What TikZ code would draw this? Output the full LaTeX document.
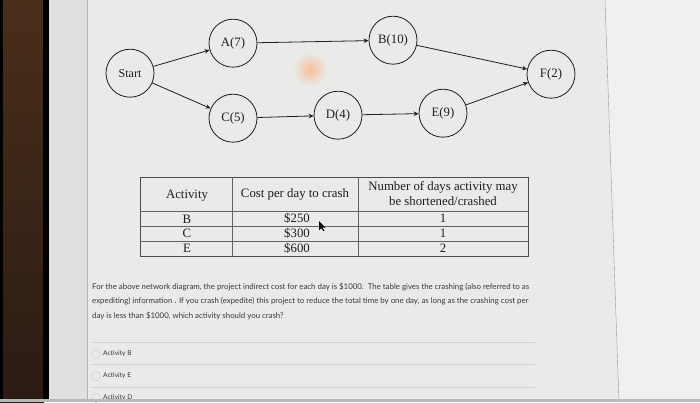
\documentclass[tikz,border=0pt]{standalone}
\usepackage{fontspec}
\setmainfont{Liberation Serif}
\newfontfamily\uifont{Lato}
\usetikzlibrary{arrows.meta}
\definecolor{page}{HTML}{EAEAE8}
\definecolor{panel}{HTML}{E0E0DE}
\definecolor{bezeltop}{HTML}{4A2E1A}
\definecolor{bezelbot}{HTML}{2A1B14}
\definecolor{ink}{HTML}{1E1E1E}
\definecolor{uitext}{HTML}{383838}
\definecolor{rule}{HTML}{D2D2D0}
\definecolor{glare}{HTML}{F7BE98}

\begin{document}
\begin{tikzpicture}[x=1pt, y=-1pt,
  every node/.style={font=\fontsize{12.8}{14}\selectfont, color=ink},
  act/.style={draw=ink, circle, minimum size=48pt, inner sep=0pt, line width=0.8pt},
  link/.style={-{Stealth[length=5pt,width=4.5pt]}, line width=0.8pt, color=ink},
  ui/.style={font=\uifont\fontsize{7.85}{9}\selectfont, color=uitext, anchor=base west, inner sep=0pt},
  opt/.style={font=\uifont\fontsize{6.6}{8}\selectfont, color=uitext, anchor=west, inner sep=0pt}]
  \fill[page] (0,0) rectangle (700,402);
  \shade[top color=bezeltop, bottom color=bezelbot] (0,0) rectangle (44,402);
  \fill[black] (0,0) rectangle (3,402);
  \fill[black] (43,0) rectangle (49,402);
  \fill[panel] (49,0) rectangle (87,402);
  \draw[gray!60] (87,0) -- (87,402);
  \fill[page!70!white] (605,0) -- (700,0) -- (700,402) -- (619,402) -- cycle;
  \draw[gray!80] (605,0) -- (619,402);
  \shade[inner color=glare, outer color=page] (310,69) circle (17);

  \node[act, font=\fontsize{12}{14}\selectfont] (start) at (130,73) {Start};
  \node[act] (a) at (233,43) {A(7)};
  \node[act] (b) at (393,40) {B(10)};
  \node[act] (f) at (551,74) {F(2)};
  \node[act] (c) at (233,118) {C(5)};
  \node[act] (d) at (338,115) {D(4)};
  \node[act] (e) at (443,113) {E(9)};
  \draw[link] (start) -- (a);
  \draw[link] (start) -- (c);
  \draw[link] (a) -- (b);
  \draw[link] (b) -- (f);
  \draw[link] (c) -- (d);
  \draw[link] (d) -- (e);
  \draw[link] (e) -- (f);

  \draw[ink!80, line width=0.6pt] (140,177) rectangle (528,256);
  \foreach \y in {211,226,241} \draw[ink!70, line width=0.5pt] (140,\y) -- (528,\y);
  \foreach \x in {232,358} \draw[ink!70, line width=0.5pt] (\x,177) -- (\x,256);
  \node (hact) at (187,195) {Activity};
  \node (hcost) at (295,194) {Cost per day to crash};
  \node[align=center, font=\fontsize{12.8}{15}\selectfont] (hdays) at (443,193) {Number of days activity may\\be shortened/crashed};
  \node (rb) at (187,219) {B};
  \node (rc) at (187,233) {C};
  \node (re) at (187,248) {E};
  \node (cb) at (297,218) {\$250};
  \node (cc) at (297,233) {\$300};
  \node (ce) at (297,248) {\$600};
  \node (db) at (443,218) {1};
  \node (dc) at (443,233) {1};
  \node (de) at (443,248) {2};
  \fill[black] (319,221) -- (319,230) -- (321.3,228) -- (323.5,231) -- (324.5,230.5) -- (322.5,227.5) -- (325.5,227.5) -- cycle;

  \node[ui] (q1) at (92,289) {For the above network diagram, the project indirect cost for each day is \$1000.\ \ The table gives the crashing (also referred to as};
  \node[ui] (q2) at (92,303) {expediting) information . If you crash (expedite) this project to reduce the total time by one day, as long as the crashing cost per};
  \node[ui] (q3) at (92,318) {day is less than \$1000, which activity should you crash?};

  \foreach \y in {342,364,387} \draw[rule, line width=0.6pt] (92,\y) -- (535,\y);
  \foreach \y in {354,376,398} \draw[gray!35, line width=0.5pt] (96,\y) circle (4.5);
  \node[opt] (ob) at (103,353) {Activity B};
  \node[opt] (oe) at (103,375) {Activity E};
  \node[opt] (od) at (103,397) {Activity D};
  \fill[gray!55] (0,399) rectangle (700,402);
\end{tikzpicture}
\end{document}
